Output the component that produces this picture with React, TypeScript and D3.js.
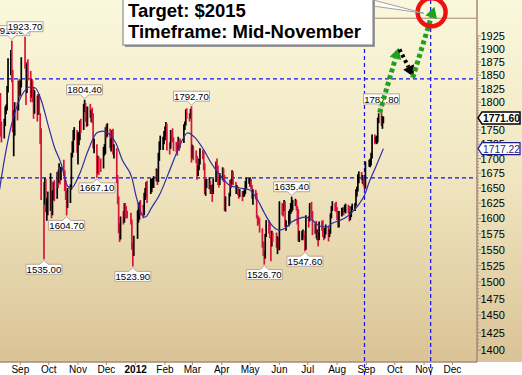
import * as d3 from "d3"

// daily bars: [day, high, low, close]
const aug2011 = [
  [10, 1800, 1745, 1784], [11, 1817, 1738, 1758], [12, 1765, 1728, 1747], [15, 1770, 1735, 1763],
  [16, 1792, 1757, 1786], [17, 1796, 1778, 1793], [18, 1830, 1785, 1822], [19, 1882, 1818, 1852],
  [22, 1898, 1850, 1891], [23, 1916, 1837, 1862], [24, 1860, 1746, 1757], [25, 1785, 1704, 1772],
  [26, 1800, 1740, 1797], [29, 1800, 1767, 1790], [30, 1840, 1785, 1835], [31, 1843, 1808, 1825],
]
const sep2011 = [
  [1, 1840, 1812, 1828], [2, 1884, 1827, 1876], [6, 1923.7, 1862, 1873], [7, 1875, 1795, 1817],
  [8, 1872, 1817, 1867], [9, 1880, 1840, 1856], [12, 1858, 1800, 1815], [13, 1843, 1808, 1836],
  [14, 1840, 1800, 1822], [15, 1828, 1770, 1780], [16, 1822, 1779, 1814], [19, 1812, 1765, 1778],
  [20, 1815, 1777, 1808], [21, 1815, 1778, 1784], [22, 1780, 1725, 1741], [23, 1753, 1630, 1639],
  [26, 1660, 1535, 1628], [27, 1667, 1622, 1653], [28, 1665, 1610, 1616], [29, 1633, 1596, 1619],
  [30, 1644, 1605, 1620],
]
const oct2011 = [
  [3, 1675, 1612, 1659], [4, 1663, 1600, 1623], [5, 1646, 1605, 1641], [6, 1660, 1630, 1650],
  [7, 1663, 1628, 1635], [10, 1677, 1632, 1671], [11, 1680, 1650, 1662], [12, 1692, 1659, 1682],
  [13, 1685, 1656, 1668], [14, 1686, 1663, 1682], [17, 1698, 1670, 1676], [18, 1680, 1645, 1655],
  [19, 1663, 1630, 1639], [20, 1645, 1604.7, 1619], [21, 1650, 1617, 1642], [24, 1656, 1625, 1652],
  [25, 1710, 1647, 1706], [26, 1730, 1702, 1722], [27, 1750, 1710, 1745], [28, 1755, 1732, 1747],
  [31, 1750, 1710, 1714],
]
const nov2011 = [
  [1, 1745, 1690, 1736], [2, 1747, 1723, 1738], [3, 1767, 1732, 1761], [4, 1770, 1745, 1755],
  [7, 1797, 1750, 1795], [8, 1804.4, 1782, 1795], [9, 1799, 1765, 1792], [10, 1792, 1755, 1758],
  [11, 1792, 1757, 1788], [14, 1797, 1772, 1780], [15, 1786, 1764, 1782], [16, 1790, 1762, 1774],
  [17, 1780, 1718, 1723], [18, 1735, 1709, 1724], [21, 1725, 1667.1, 1678], [22, 1705, 1675, 1698],
  [23, 1703, 1672, 1690], [25, 1700, 1677, 1686], [28, 1720, 1683, 1715], [29, 1725, 1705, 1716],
  [30, 1755, 1708, 1746],
]
const dec2011 = [
  [1, 1760, 1735, 1745], [2, 1762, 1738, 1748], [5, 1752, 1718, 1724], [6, 1735, 1712, 1730],
  [7, 1750, 1720, 1745], [8, 1752, 1707, 1713], [9, 1725, 1700, 1713], [12, 1718, 1658, 1668],
  [13, 1672, 1623, 1631], [14, 1636, 1576, 1586], [15, 1592, 1562, 1569], [16, 1603, 1566, 1598],
  [19, 1612, 1590, 1596], [20, 1625, 1593, 1619], [21, 1625, 1600, 1613], [22, 1620, 1600, 1609],
  [23, 1612, 1600, 1606], [27, 1609, 1590, 1595], [28, 1598, 1550, 1560], [29, 1561, 1523.9, 1541],
  [30, 1572, 1540, 1566],
]
const jan2012 = [
  [3, 1613, 1567, 1599], [4, 1625, 1593, 1612], [5, 1627, 1598, 1620], [6, 1630, 1605, 1616],
  [9, 1622, 1600, 1608], [10, 1642, 1605, 1636], [11, 1650, 1630, 1645], [12, 1660, 1635, 1656],
  [13, 1662, 1625, 1630], [17, 1666, 1640, 1654], [18, 1665, 1643, 1659], [19, 1667, 1650, 1659],
  [20, 1670, 1650, 1666], [23, 1683, 1661, 1677], [24, 1680, 1655, 1665], [25, 1710, 1660, 1699],
  [26, 1730, 1696, 1725], [27, 1740, 1715, 1730], [30, 1738, 1715, 1732], [31, 1748, 1725, 1740],
]
const feb2012 = [
  [1, 1756, 1732, 1746], [2, 1764, 1740, 1759], [3, 1761, 1714, 1725], [6, 1728, 1707, 1720],
  [7, 1750, 1717, 1745], [8, 1748, 1730, 1742], [9, 1753, 1728, 1735], [10, 1737, 1713, 1724],
  [13, 1729, 1711, 1721], [14, 1724, 1705, 1719], [15, 1738, 1715, 1733], [16, 1732, 1713, 1726],
  [17, 1735, 1718, 1725], [21, 1760, 1727, 1757], [22, 1765, 1750, 1761], [23, 1787, 1758, 1782],
  [24, 1789, 1770, 1778], [27, 1780, 1765, 1773], [28, 1788, 1770, 1785], [29, 1792.7, 1693, 1711],
]
const mar2012 = [
  [1, 1724, 1700, 1717], [2, 1722, 1697, 1712], [5, 1714, 1692, 1706], [6, 1705, 1664, 1674],
  [7, 1688, 1670, 1684], [8, 1700, 1680, 1697], [9, 1718, 1690, 1713], [12, 1715, 1699, 1709],
  [13, 1712, 1680, 1690], [14, 1692, 1640, 1645], [15, 1665, 1637, 1657], [16, 1665, 1650, 1658],
  [19, 1668, 1648, 1658], [20, 1662, 1640, 1648], [21, 1655, 1640, 1650], [22, 1656, 1627, 1643],
  [23, 1666, 1640, 1662], [26, 1695, 1660, 1690], [27, 1700, 1680, 1685], [28, 1688, 1655, 1662],
  [29, 1668, 1651, 1661], [30, 1675, 1655, 1669],
]
const apr2012 = [
  [2, 1685, 1663, 1679], [3, 1683, 1660, 1670], [4, 1672, 1612, 1614], [5, 1636, 1611, 1630],
  [9, 1642, 1620, 1639], [10, 1664, 1636, 1660], [11, 1665, 1650, 1659], [12, 1680, 1656, 1677],
  [13, 1678, 1655, 1660], [16, 1660, 1640, 1650], [17, 1655, 1640, 1650], [18, 1652, 1638, 1643],
  [19, 1648, 1632, 1642], [20, 1648, 1635, 1643], [23, 1645, 1628, 1637], [24, 1645, 1635, 1640],
  [25, 1650, 1636, 1643], [26, 1662, 1640, 1657], [27, 1667, 1648, 1663], [30, 1667, 1657, 1664],
]
const may2012 = [
  [1, 1668, 1652, 1664], [2, 1665, 1648, 1652], [3, 1655, 1632, 1635], [4, 1648, 1622, 1645],
  [7, 1647, 1631, 1639], [8, 1642, 1600, 1603], [9, 1605, 1588, 1598], [10, 1603, 1590, 1595],
  [11, 1600, 1577, 1583], [14, 1584, 1553, 1558], [15, 1563, 1540, 1549], [16, 1548, 1526.7, 1537],
  [17, 1575, 1536, 1573], [18, 1597, 1570, 1592], [21, 1597, 1575, 1589], [22, 1593, 1568, 1571],
  [23, 1573, 1532, 1561], [24, 1580, 1555, 1573], [25, 1577, 1562, 1571], [29, 1577, 1553, 1561],
  [30, 1571, 1543, 1565], [31, 1568, 1551, 1561],
]
const jun2012 = [
  [1, 1628, 1549, 1622], [4, 1625, 1605, 1616], [5, 1622, 1603, 1615], [6, 1630, 1612, 1626],
  [7, 1628, 1586, 1589], [8, 1597, 1580, 1591], [11, 1612, 1587, 1595], [12, 1615, 1590, 1612],
  [13, 1625, 1607, 1619], [14, 1635.4, 1610, 1619], [15, 1630, 1613, 1625], [18, 1632, 1620, 1628],
  [19, 1630, 1613, 1618], [20, 1620, 1590, 1616], [21, 1615, 1563, 1566], [22, 1580, 1562, 1573],
  [25, 1580, 1565, 1573], [26, 1582, 1568, 1576], [27, 1580, 1565, 1572], [28, 1573, 1547.6, 1550],
  [29, 1605, 1550, 1604],
]
const jul2012 = [
  [2, 1604, 1585, 1597], [3, 1625, 1595, 1621], [5, 1627, 1600, 1606], [6, 1612, 1573, 1579],
  [9, 1592, 1575, 1588], [10, 1596, 1568, 1573], [11, 1582, 1565, 1575], [12, 1578, 1555, 1566],
  [13, 1595, 1565, 1592], [16, 1596, 1580, 1590], [17, 1597, 1570, 1582], [18, 1585, 1565, 1570],
  [19, 1584, 1568, 1580], [20, 1590, 1574, 1585], [23, 1586, 1563, 1576], [24, 1582, 1570, 1578],
  [25, 1608, 1575, 1606], [26, 1620, 1600, 1614], [27, 1628, 1612, 1622], [30, 1625, 1612, 1620],
  [31, 1627, 1610, 1614],
]
const aug2012 = [
  [1, 1618, 1597, 1601], [2, 1612, 1585, 1590], [3, 1612, 1585, 1606], [6, 1617, 1603, 1612],
  [7, 1618, 1605, 1614], [8, 1617, 1605, 1612], [9, 1622, 1610, 1617], [10, 1624, 1608, 1620],
  [13, 1622, 1608, 1618], [14, 1620, 1595, 1600], [15, 1610, 1597, 1605], [16, 1620, 1602, 1617],
  [17, 1624, 1613, 1617], [20, 1625, 1612, 1622], [21, 1648, 1620, 1644], [22, 1652, 1636, 1645],
  [23, 1673, 1644, 1669], [24, 1678, 1658, 1673], [27, 1677, 1663, 1666], [28, 1672, 1657, 1666],
  [29, 1667, 1653, 1659], [30, 1665, 1648, 1656], [31, 1695, 1649, 1692],
]
const sep2012 = [
  [4, 1698, 1686, 1694], [5, 1700, 1685, 1694], [6, 1710, 1688, 1703], [7, 1742, 1700, 1740],
  [10, 1742, 1725, 1733], [11, 1738, 1728, 1733], [12, 1740, 1725, 1735], [13, 1772, 1728, 1770],
  [14, 1780, 1762, 1772], [17, 1787.8, 1757, 1764], [18, 1775, 1752, 1770], [19, 1774, 1762, 1771.6],
]
const monthBlocks: [string, number[][]][] = [
  ["2011-08", aug2011], ["2011-09", sep2011], ["2011-10", oct2011], ["2011-11", nov2011],
  ["2011-12", dec2011], ["2012-01", jan2012], ["2012-02", feb2012], ["2012-03", mar2012],
  ["2012-04", apr2012], ["2012-05", may2012], ["2012-06", jun2012], ["2012-07", jul2012],
  ["2012-08", aug2012], ["2012-09", sep2012],
]

// moving average
const maDates = [
  "2011-08-10", "2011-08-15", "2011-08-24", "2011-09-02", "2011-09-11", "2011-09-17", "2011-09-23",
  "2011-10-01", "2011-10-07", "2011-10-14", "2011-10-21", "2011-10-25", "2011-11-03", "2011-11-11",
  "2011-11-21", "2011-11-27", "2011-12-04", "2011-12-11", "2011-12-18", "2011-12-28", "2012-01-02",
  "2012-01-08", "2012-01-11", "2012-01-18", "2012-01-26", "2012-02-06", "2012-02-16", "2012-02-25",
  "2012-03-04", "2012-03-13", "2012-03-21", "2012-03-30", "2012-04-09", "2012-04-20", "2012-04-30",
  "2012-05-09", "2012-05-16", "2012-05-24", "2012-06-01", "2012-06-07", "2012-06-14", "2012-06-22",
  "2012-06-28", "2012-07-06", "2012-07-13", "2012-07-21", "2012-07-27", "2012-08-03", "2012-08-11",
  "2012-08-17", "2012-08-25", "2012-08-30", "2012-09-04", "2012-09-11", "2012-09-19",
]
const maValues = [
  1647, 1697, 1768, 1811, 1828, 1826, 1804,
  1755, 1720, 1692, 1653, 1650, 1675, 1711,
  1745, 1748, 1743, 1727, 1697, 1667, 1633,
  1605, 1602, 1618, 1638, 1680, 1720, 1745,
  1736, 1715, 1692, 1672, 1655, 1650, 1647,
  1630, 1609, 1589, 1581, 1584, 1594, 1600,
  1602, 1597, 1588, 1586, 1592, 1596, 1602,
  1610, 1625, 1638, 1660, 1686, 1717.22,
]

// price labels at swing highs / lows
const swingDates = [
  "2011-08-23", "2011-09-06", "2011-09-26", "2011-10-20", "2011-11-08", "2011-11-21", "2011-12-29",
  "2012-02-29", "2012-05-16", "2012-06-14", "2012-06-28", "2012-09-17",
]
const swingPrices = [1916.0, 1923.7, 1535.0, 1604.7, 1804.4, 1667.1, 1523.9, 1792.7, 1526.7, 1635.4, 1547.6, 1787.8]
const swingSides = ["up", "up", "down", "down", "up", "down", "down", "up", "down", "up", "down", "up"]

const priceTicks = [
  1400, 1425, 1450, 1475, 1500, 1525, 1550, 1575, 1600, 1625, 1650, 1675,
  1700, 1725, 1750, 1775, 1800, 1825, 1850, 1875, 1900, 1925,
]
const monthTickDates = [
  "2011-09-01", "2011-10-01", "2011-11-01", "2011-12-01", "2012-01-01", "2012-02-01", "2012-03-01",
  "2012-04-01", "2012-05-01", "2012-06-01", "2012-07-01", "2012-08-01", "2012-09-01", "2012-10-01",
  "2012-11-01", "2012-12-01",
]
const monthLabels = ["Sep", "Oct", "Nov", "Dec", "2012", "Feb", "Mar", "Apr", "May", "Jun", "Jul", "Aug", "Sep", "Oct", "Nov", "Dec"]

// reference levels and projection
const hLevels = [1843, 1667.1]
const vDates = ["2012-08-30", "2012-11-08"]
const targetLevel = 1960
const upLeg1 = [["2012-09-15", 1781], ["2012-10-05", 1902]]
const pullback = [["2012-10-06", 1899], ["2012-10-21", 1847]]
const upLeg2 = [["2012-10-20", 1845], ["2012-11-12", 1983]]
const targetPoint = ["2012-11-09", 1972]

const parse = d3.timeParse("%Y-%m-%d")
const W = 522
const H = 375
const plotR = 477
const axisY = 362
const font = "'Liberation Sans', Arial, sans-serif"

export default function App() {
  const x = d3.scaleTime().domain([new Date(2011, 7, 10, 12), new Date(2012, 11, 27)]).range([0, plotR])
  const y = d3.scaleLog().domain([1400, 1925]).range([350, 36])

  const bars = monthBlocks.flatMap(([ym, rows]) =>
    rows.map(([d, h, l, c]) => ({
      date: parse(`${ym}-${String(d).padStart(2, "0")}`) as Date,
      high: h,
      low: l,
      close: c,
    })),
  )

  const ma = maDates.map((d, i) => ({ date: parse(d) as Date, v: maValues[i] }))
  const maLine = d3
    .line<{ date: Date; v: number }>()
    .x((d) => x(d.date))
    .y((d) => y(d.v))
    .curve(d3.curveMonotoneX)

  const lastClose = bars[bars.length - 1].close
  const lastMa = maValues[maValues.length - 1]

  const minorTicks = d3.range(1400, 1926, 5).filter((v) => v % 25 !== 0)

  const arrow = (seg: (string | number)[][], color: string, w: number, dash: string, key: string) => {
    const x1 = x(parse(seg[0][0] as string) as Date)
    const y1 = y(seg[0][1] as number)
    const x2 = x(parse(seg[1][0] as string) as Date)
    const y2 = y(seg[1][1] as number)
    const len = Math.hypot(x2 - x1, y2 - y1)
    const ux = (x2 - x1) / len
    const uy = (y2 - y1) / len
    const hl = 11
    const hw = 6
    const bx = x2 - ux * hl
    const by = y2 - uy * hl
    const pts = [
      [x2, y2],
      [bx - uy * hw, by + ux * hw],
      [bx + uy * hw, by - ux * hw],
    ]
    return (
      <g key={key}>
        <line x1={x1} y1={y1} x2={bx} y2={by} stroke={color} strokeWidth={w} strokeDasharray={dash} />
        <polygon points={pts.map((p) => p.join(",")).join(" ")} fill={color} />
      </g>
    )
  }

  const labelBox = (i: number) => {
    const cx = x(parse(swingDates[i]) as Date)
    const py = y(swingPrices[i])
    const text = swingPrices[i].toFixed(2)
    const bw = 36
    const bh = 10
    const l = cx - bw / 2
    const r = cx + bw / 2
    let d: string
    let top: number
    if (swingSides[i] === "up") {
      const b = py - 5
      top = b - bh
      d = `M${l},${top}H${r}V${b}H${cx + 4}L${cx},${py - 1}L${cx - 4},${b}H${l}Z`
    } else {
      top = py + 5
      const b = top + bh
      d = `M${l},${top}H${cx - 4}L${cx},${py + 1}L${cx + 4},${top}H${r}V${b}H${l}Z`
    }
    return (
      <g key={`lb${i}`}>
        <path d={d} fill="#fff" stroke="#b8a595" strokeWidth={1} />
        <text x={cx} y={top + 8.6} textAnchor="middle" fontSize={9.6} fontFamily={font} fill="#000">
          {text}
        </text>
      </g>
    )
  }

  const tag = (v: number, stroke: string, bold: boolean, key: string) => {
    const ty = y(v)
    return (
      <g key={key}>
        <path
          d={`M${plotR + 1},${ty}L${plotR + 5},${ty - 6}H${W - 2}V${ty + 6}H${plotR + 5}Z`}
          fill="#fff"
          stroke={stroke}
          strokeWidth={bold ? 1.5 : 1.2}
        />
        <text
          x={plotR + 6}
          y={ty + 4}
          fontSize={11}
          fontWeight={bold ? "bold" : "normal"}
          fontFamily={font}
          fill={stroke}
          textLength={37}
          lengthAdjust="spacingAndGlyphs"
        >
          {v.toFixed(2)}
        </text>
      </g>
    )
  }

  const tp = [x(parse(targetPoint[0] as string) as Date), y(targetPoint[1] as number)]

  return (
    <svg width={W} height={H} style={{ position: "absolute", left: 0, top: 0 }}>
      <defs>
        <linearGradient id="bg" x1="0" y1="0" x2="0" y2="1">
          <stop offset="0" stopColor="#faf8dc" />
          <stop offset="0.5" stopColor="#f0e5bf" />
          <stop offset="1" stopColor="#dac396" />
        </linearGradient>
        <clipPath id="plot">
          <rect x={0} y={0} width={plotR} height={axisY} />
        </clipPath>
      </defs>
      <rect x={0} y={0} width={W} height={H} fill="#fff" />
      <rect x={0} y={0} width={W} height={axisY} fill="url(#bg)" />

      {/* reference lines */}
      {hLevels.map((v) => (
        <line key={`h${v}`} x1={0} x2={plotR} y1={y(v)} y2={y(v)} stroke="#1010f0" strokeWidth={1.2} strokeDasharray="4,3" />
      ))}
      {vDates.map((d) => (
        <line key={`v${d}`} x1={x(parse(d) as Date)} x2={x(parse(d) as Date)} y1={0} y2={H} stroke="#1010f0" strokeWidth={1.2} strokeDasharray="4,3" />
      ))}

      {/* price bars */}
      <g clipPath="url(#plot)">
        {bars.map((b, i) => {
          const prev = i > 0 ? bars[i - 1].close : b.close
          return (
            <line
              key={i}
              x1={x(b.date)}
              x2={x(b.date)}
              y1={y(b.high)}
              y2={y(b.low)}
              stroke={b.close < prev ? "#d8143a" : "#000"}
              strokeWidth={1.7}
            />
          )
        })}
        <path d={maLine(ma) ?? ""} fill="none" stroke="#2d2da6" strokeWidth={1.2} />
      </g>

      {/* axes */}
      <line x1={0} x2={plotR} y1={axisY} y2={axisY} stroke="#a58a7a" strokeWidth={1.5} />
      <line x1={plotR} x2={plotR} y1={0} y2={axisY} stroke="#a58a7a" strokeWidth={1.5} />
      {monthTickDates.map((d, i) => {
        const tx = x(parse(d) as Date)
        return (
          <g key={`m${d}`}>
            <line x1={tx} x2={tx} y1={axisY} y2={axisY + 3} stroke="#a58a7a" />
            <text
              x={tx}
              y={373}
              textAnchor="middle"
              fontSize={10}
              fontFamily={font}
              fontWeight={monthLabels[i] === "2012" ? "bold" : "normal"}
              fill="#000"
            >
              {monthLabels[i]}
            </text>
          </g>
        )
      })}
      {minorTicks.map((v) => (
        <line key={`mt${v}`} x1={plotR} x2={plotR + 2} y1={y(v)} y2={y(v)} stroke="#a58a7a" />
      ))}
      {priceTicks.map((v) => (
        <g key={`pt${v}`}>
          <line x1={plotR} x2={plotR + 4} y1={y(v)} y2={y(v)} stroke="#a58a7a" />
          <text x={plotR + 3.5} y={y(v) + 4} fontSize={11} fontFamily={font} fill="#000">
            {v}
          </text>
        </g>
      ))}

      {/* swing labels */}
      {[0, 1, 2, 3, 4, 5, 6, 7, 8, 9, 10, 11].map((i) => labelBox(i))}

      {tag(lastClose, "#000", true, "tc")}
      {tag(lastMa, "#1a1a8c", false, "tm")}

      {/* projection */}
      <line x1={373} x2={plotR} y1={y(targetLevel)} y2={y(targetLevel)} stroke="#a8887a" strokeWidth={1} />
      {arrow(upLeg1, "#1fa01f", 5, "4,3", "a1")}
      {arrow(pullback, "#000", 4, "3,3", "a2")}
      {arrow(upLeg2, "#1fa01f", 5, "4,3", "a3")}
      <circle cx={tp[0]} cy={tp[1]} r={14} fill="none" stroke="#ee1111" strokeWidth={4.5} />

      {/* callout */}
      <polygon points={`373,0 ${tp[0] - 8},${tp[1] + 1} 373,6`} fill="#fff" stroke="#8a8a8a" strokeWidth={0.8} />
      <rect x={125} y={1} width={250} height={46} fill="#9a9a9a" />
      <rect x={123} y={-1} width={250} height={46} fill="#fff" stroke="#777" strokeWidth={1} />
      <text x={128} y={17} fontSize={18.5} fontWeight="bold" fontFamily={font} fill="#000">
        Target: $2015
      </text>
      <text x={128} y={38} fontSize={18.5} fontWeight="bold" fontFamily={font} fill="#000">
        Timeframe: Mid-November
      </text>
    </svg>
  )
}
